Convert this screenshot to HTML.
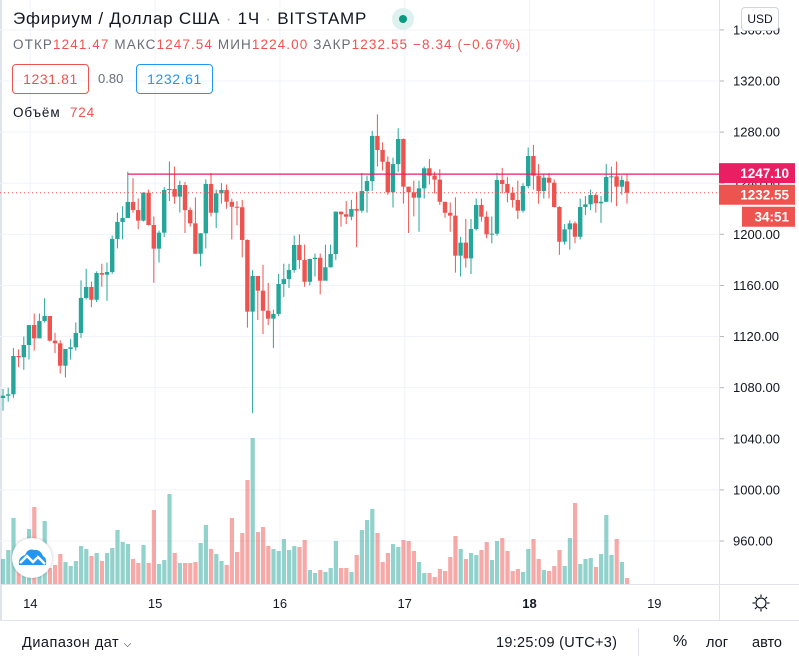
<!DOCTYPE html>
<html><head><meta charset="utf-8">
<style>
body{margin:0;width:799px;height:664px;overflow:hidden;background:#fff;font-family:"Liberation Sans","DejaVu Sans",sans-serif;color:#131722}
#wrap{position:relative;width:799px;height:664px}
svg{position:absolute;left:0;top:0}
.hdr{position:absolute;left:13px;white-space:nowrap}
</style></head><body>
<div id="wrap">
<svg id="chart" width="799" height="664"></svg>
<div class="hdr" style="top:9px;font-size:17px;letter-spacing:0.75px;color:#131722">Эфириум / Доллар США <span style="color:#b2b5be">·</span> 1Ч <span style="color:#b2b5be">·</span> BITSTAMP</div>
<div style="position:absolute;left:392px;top:8px;width:22px;height:22px;border-radius:11px;background:#ddf1ee"><div style="position:absolute;left:7px;top:7px;width:8px;height:8px;border-radius:4px;background:#089981"></div></div>
<div class="hdr" style="top:37px;font-size:13.5px;letter-spacing:1.1px;color:#ef5350"><span style="color:#6a6d78">ОТКР</span>1241.47 <span style="color:#6a6d78">МАКС</span>1247.54 <span style="color:#6a6d78">МИН</span>1224.00 <span style="color:#6a6d78">ЗАКР</span>1232.55 −8.34 (−0.67%)</div>
<div style="position:absolute;left:12px;top:64px;width:77px;height:30px;box-sizing:border-box;border:1px solid #ef5350;border-radius:4px;color:#ef5350;font-size:14px;letter-spacing:0.6px;line-height:28px;text-align:center">1231.81</div>
<div class="hdr" style="left:98px;top:71px;font-size:13px;color:#6a6d78">0.80</div>
<div style="position:absolute;left:136px;top:64px;width:77px;height:30px;box-sizing:border-box;border:1px solid #2196f3;border-radius:4px;color:#2196f3;font-size:14px;letter-spacing:0.6px;line-height:28px;text-align:center">1232.61</div>
<div class="hdr" style="top:105px;font-size:13.5px;letter-spacing:0.9px">Объём&nbsp; <span style="color:#ef5350">724</span></div>
<div style="position:absolute;left:741px;top:7px;width:38px;height:24px;box-sizing:border-box;border:1px solid #d1d4dc;border-radius:4px;background:#fff;font-size:12px;line-height:22px;text-align:center">USD</div>
<div style="position:absolute;left:12px;top:538px;width:40px;height:40px;border-radius:20px;background:#fff;box-shadow:0 0 3px rgba(0,0,0,0.25)">
<svg width="40" height="40" style="position:relative"><path d="M7 27 Q6 19 13 17 Q16 10 22 12 Q28 11 31 18 Q35 20 34 27 Z" fill="#2196f3"/><path d="M8 25 L15 18 L21 24 L26 19 L33 26" stroke="#fff" stroke-width="2.5" fill="none"/></svg></div>
<div class="hdr" style="left:22px;top:635px;font-size:14.5px;letter-spacing:0.5px">Диапазон дат <span style="font-size:10px">⌵</span></div>
<div class="hdr" style="left:496px;top:635px;font-size:14.5px;letter-spacing:0.3px">19:25:09 (UTC+3)</div>
<div class="hdr" style="left:673px;top:633px;font-size:16px">%</div>
<div class="hdr" style="left:706px;top:635px;font-size:14.5px">лог</div>
<div class="hdr" style="left:752px;top:635px;font-size:14.5px">авто</div>
</div>
<script>
const closes=[1073.7,1074.8,1104.8,1103.8,1113.4,1129,1118.6,1132.2,1136.1,1116.8,1114.7,1097.2,1110.3,1111.6,1122.8,1150.2,1158.8,1148.8,1169.7,1168.4,1170.5,1196.4,1209.7,1212.8,1225.3,1219,1210.7,1232.6,1207.3,1188.8,1201.3,1234.7,1235.5,1229.5,1238.6,1219,1208.6,1184.8,1200.8,1239.4,1216.9,1232.1,1234.7,1225.5,1221.6,1221.2,1195.6,1139.5,1167.4,1155.9,1140.2,1134,1137.7,1161.1,1165,1172.1,1191.7,1179.9,1162.9,1180.7,1181.7,1163.7,1174.2,1184.6,1217.7,1215.7,1213.8,1219.8,1218.5,1233.9,1241.7,1277,1266,1256.8,1232.9,1255,1274.6,1237.3,1232.9,1228.7,1236,1251.7,1245.9,1242.8,1225.5,1216.9,1214.6,1183.3,1193.5,1181.2,1204.2,1223,1213.8,1200,1200.5,1242.5,1239.4,1232.6,1226.9,1218.5,1237.8,1261.3,1245.9,1233.9,1244.3,1240.4,1221.4,1194.2,1203.9,1208.6,1198.1,1221.4,1223.5,1230.8,1224.3,1225.5,1244.9,1245.4,1237.3,1242.5,1232.55];
const highs=[1079,1080,1111,1110,1120,1129,1138,1138,1150,1136,1123,1117,1110,1118,1131,1164,1173,1163,1171,1177,1178,1199,1217,1222,1249,1244,1228,1233,1235,1214,1203,1237,1257,1253,1242,1241,1221,1229,1201,1243,1248,1235,1240,1239,1228,1226,1227,1196,1172,1167,1176,1162,1141,1169,1177,1177,1199,1200,1192,1181,1185,1185,1192,1192,1218,1218,1226,1227,1233,1248,1246,1281,1294,1272,1261,1260,1283,1275,1237,1242,1242,1253,1259,1249,1251,1225,1225,1229,1198,1212,1212,1228,1228,1218,1214,1248,1252,1245,1237,1242,1240,1268,1270,1255,1247,1248,1243,1222,1208,1211,1210,1228,1230,1235,1232,1230,1255,1253,1257,1246,1247.54];
const lows=[1062,1069,1072,1096,1094,1102,1109,1120,1131,1116,1107,1091,1088,1102,1109,1119,1149,1143,1147,1159,1148,1169,1189,1196,1214,1217,1204,1210,1207,1162,1178,1198,1226,1224,1217,1201,1206,1185,1175,1189,1214,1205,1224,1220,1196,1207,1182,1127,1060,1133,1122,1129,1111,1136,1151,1158,1170,1173,1159,1160,1167,1153,1168,1174,1180,1206,1208,1211,1190,1217,1217,1234,1253,1250,1231,1221,1249,1224,1201,1214,1202,1228,1239,1232,1223,1213,1202,1170,1167,1174,1169,1203,1210,1197,1193,1199,1232,1225,1221,1212,1217,1236,1235,1224,1228,1228,1221,1184,1192,1188,1193,1196,1215,1219,1217,1209,1225,1225,1222,1231,1224.00];
const firstOpen=1071.9, lastOpen=1241.47;
const volumes=[25,34,66,17,21,55,77,17,63,16,19,30,22,18,23,38,35,28,31,23,31,36,54,42,40,25,21,39,21,74,20,24,90,31,21,21,21,22,41,59,35,30,23,19,66,32,51,104,146,52,57,38,35,33,45,34,38,37,44,14,11,14,12,16,43,16,16,12,29,54,64,75,51,22,31,40,37,44,43,33,22,11,11,7,15,13,27,48,35,25,31,29,34,42,24,43,46,33,13,15,12,35,45,25,14,13,18,34,18,46,81,20,25,26,17,30,69,29,45,22,6];
const priceTicks=[1360,1320,1280,1240,1200,1160,1120,1080,1040,1000,960];
const dayLabels=["14","15","16","17","18","19"];
const firstDay=13, firstHour=19;
const levelPrice=1247.10, levelStartIndex=24;
const lastPrice=1232.55;

const svg=document.getElementById('chart');
const NS='http://www.w3.org/2000/svg';
const PLOT_R=719;
function yP(p){return 81+(1320-p)*1.2778;}
function xI(i){return 3+i*5.2;}
function yV(v){return 584-v*1.0;}
function mk(tag,attrs,parent){const e=document.createElementNS(NS,tag);for(const k in attrs)e.setAttribute(k,attrs[k]);(parent||svg).appendChild(e);return e;}

const ls=mk('rect',{x:0,y:0,width:2,height:620,fill:'#dfe3ec'});


priceTicks.forEach(p=>{const g=mk('line',{x1:0,x2:PLOT_R,y1:yP(p),y2:yP(p),stroke:'#f0f3fa','stroke-width':1});

});
dayLabels.forEach(d=>{const idx=(+d-firstDay)*24-firstHour;const x=xI(idx+0.25);
const g=mk('line',{x1:x,x2:x,y1:0,y2:584,stroke:'#f0f3fa','stroke-width':1});


const t=mk('text',{x:x,y:608,'text-anchor':'middle','font-size':13,fill:'#131722','font-weight':d==='18'?'bold':'normal','font-family':'Liberation Sans, sans-serif'});t.textContent=d;

});
volumes.forEach((v,i)=>{const o=i===0?firstOpen:(i===closes.length-1?lastOpen:closes[i-1]);const up=closes[i]>=o;
const r=mk('rect',{x:xI(i)-2,y:yV(v),width:4.2,height:584-yV(v),fill:up?'rgba(38,166,154,0.5)':'rgba(239,83,80,0.5)'});

});
closes.forEach((c,i)=>{const o=i===0?firstOpen:(i===closes.length-1?lastOpen:closes[i-1]);const up=c>=o;const col=up?'#26a69a':'#ef5350';const x=xI(i);
const w=mk('line',{x1:x,x2:x,y1:yP(highs[i]),y2:yP(lows[i]),stroke:col,'stroke-width':1});


const yt=Math.min(yP(o),yP(c)),h=Math.max(1,Math.abs(yP(o)-yP(c)));
const b=mk('rect',{x:x-2.2,y:yt,width:4.4,height:h,fill:col});

});
const lv=mk('line',{x1:xI(levelStartIndex),x2:PLOT_R,y1:yP(levelPrice),y2:yP(levelPrice),stroke:'#e91e63','stroke-width':1.2});


const lp=mk('line',{x1:0,x2:PLOT_R,y1:yP(lastPrice),y2:yP(lastPrice),stroke:'#ef5350','stroke-width':1,'stroke-dasharray':'1,3'});


mk('line',{x1:719.5,x2:719.5,y1:0,y2:620,stroke:'#e0e3eb'});
mk('line',{x1:0,x2:799,y1:584.5,y2:584.5,stroke:'#e0e3eb'});
mk('line',{x1:0,x2:799,y1:620.5,y2:620.5,stroke:'#e0e3eb'});
mk('line',{x1:638.5,x2:638.5,y1:628,y2:656,stroke:'#e0e3eb'});
priceTicks.forEach(p=>{const y=yP(p);mk('line',{x1:720,x2:724,y1:y,y2:y,stroke:'#b2b5be'});
const t=mk('text',{x:733,y:y+4.5,'font-size':13,fill:'#131722','font-family':'Liberation Sans, sans-serif'});t.textContent=p.toFixed(2);

});
function badge(x,y,w,text,fill,name){const g=mk('g',{});


mk('rect',{x:x,y:y-10,width:w,height:20,fill:fill},g);
const t=mk('text',{x:x+w-6,y:y+5,'text-anchor':'end','font-size':13.5,'font-weight':'bold',fill:'#fff','font-family':'Liberation Sans, sans-serif'},g);t.textContent=text;}
badge(719,yP(levelPrice)-1,76,'1247.10','#e91e63','level-price-badge');
badge(719,yP(lastPrice)+2,76,'1232.55','#ef5350','last-price-badge');
badge(742,yP(lastPrice)+24,53,'34:51','#ef5350','countdown-badge');
const gear=mk('g',{});


mk('circle',{cx:761,cy:603,r:5,fill:'none',stroke:'#131722','stroke-width':1.2},gear);
for(let k=0;k<8;k++){const a=k*Math.PI/4;mk('line',{x1:761+6*Math.cos(a),y1:603+6*Math.sin(a),x2:761+8.5*Math.cos(a),y2:603+8.5*Math.sin(a),stroke:'#131722','stroke-width':1.2},gear);}
</script>
</body></html>
